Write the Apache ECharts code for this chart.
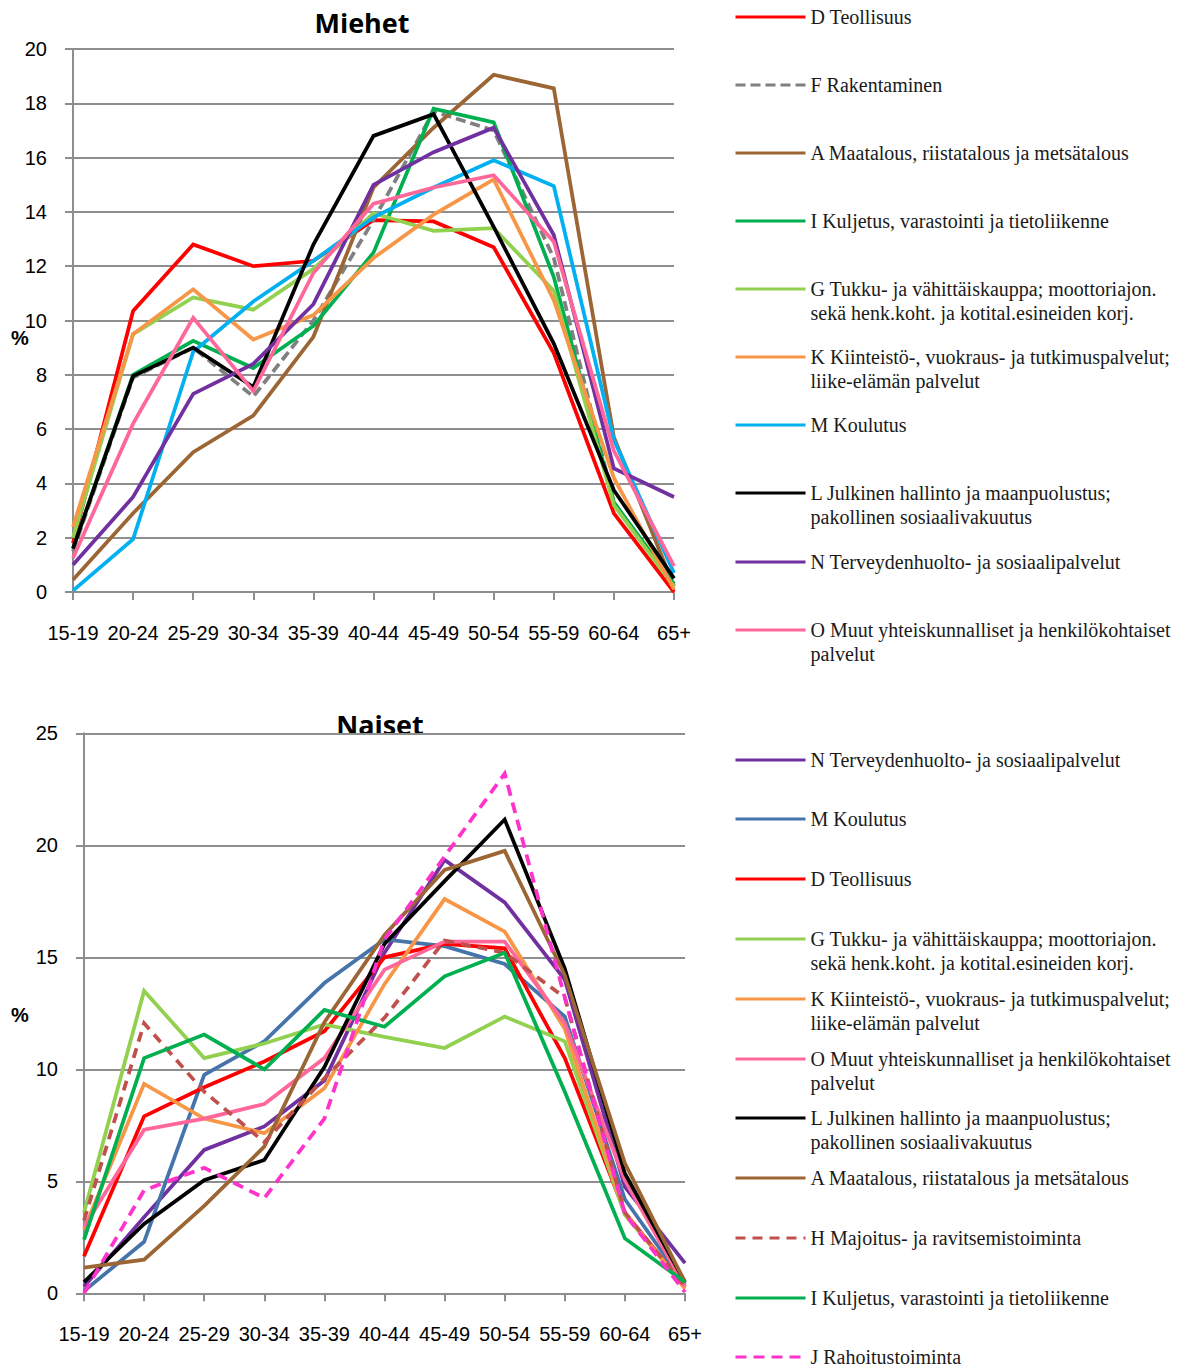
<!DOCTYPE html>
<html>
<head>
<meta charset="utf-8">
<script src="https://cdn.jsdelivr.net/npm/echarts@6/dist/echarts.min.js"></script>
<style>
  html, body { margin: 0; padding: 0; background: #ffffff; }
  #men { position: absolute; left: 0; top: 0; width: 1186px; height: 680px; }
  #women { position: absolute; left: 0; top: 680px; width: 1186px; height: 689px; }
</style>
</head>
<body>
<div id="men"></div>
<div id="women"></div>
<script>
// ---------- shared categories ----------
const ageGroups = ['15-19','20-24','25-29','30-34','35-39','40-44','45-49','50-54','55-59','60-64','65+'];

// ---------- Miehet (men) ----------
const menTitle = 'Miehet';
const menYTicks = { min: 0, max: 20, interval: 2 };
const menNames = [
  'D Teollisuus',
  'F Rakentaminen',
  'A Maatalous, riistatalous ja metsätalous',
  'I Kuljetus, varastointi ja tietoliikenne',
  'G Tukku- ja vähittäiskauppa; moottoriajon.\nsekä henk.koht. ja kotital.esineiden korj.',
  'K Kiinteistö-, vuokraus- ja tutkimuspalvelut;\nliike-elämän palvelut',
  'M Koulutus',
  'L Julkinen hallinto ja maanpuolustus;\npakollinen sosiaalivakuutus',
  'N Terveydenhuolto- ja sosiaalipalvelut',
  'O Muut yhteiskunnalliset ja henkilökohtaiset\npalvelut'
];
const menD = [1.8, 10.35, 12.8, 12.0, 12.2, 13.7, 13.65, 12.7, 8.8, 2.9, 0.0];
const menF = [1.5, 7.9, 9.0, 7.2, 10.0, 13.7, 17.7, 17.0, 12.3, 3.3, 0.2];
const menA = [0.45, 2.9, 5.15, 6.5, 9.4, 14.9, 17.1, 19.05, 18.55, 5.7, 0.2];
const menI = [1.6, 8.0, 9.25, 8.25, 9.8, 12.5, 17.8, 17.3, 11.6, 3.3, 0.3];
const menG = [2.0, 9.5, 10.85, 10.4, 11.9, 13.95, 13.3, 13.4, 11.1, 3.2, 0.2];
const menK = [2.4, 9.5, 11.15, 9.3, 10.2, 12.3, 13.9, 15.2, 10.75, 4.2, 0.1];
const menM = [0.05, 1.95, 8.85, 10.7, 12.2, 13.8, 14.9, 15.9, 14.95, 5.6, 0.7];
const menL = [1.6, 7.95, 9.0, 7.55, 12.8, 16.8, 17.6, 13.45, 9.15, 3.75, 0.5];
const menN = [1.0, 3.5, 7.3, 8.4, 10.6, 15.0, 16.2, 17.1, 13.15, 4.55, 3.5];
const menO = [1.25, 6.2, 10.1, 7.4, 11.75, 14.3, 14.9, 15.35, 12.9, 5.2, 0.95];
const menValues = [menD, menF, menA, menI, menG, menK, menM, menL, menN, menO];
const menColors = ['#FF0000','#808080','#9B6534','#00B050','#92D050','#F79646','#00B0F0','#000000','#7030A0','#FF6699'];
const menDashes = ['solid',[10,5],'solid','solid','solid','solid','solid','solid','solid','solid'];

// ---------- Naiset (women) ----------
const womenTitle = 'Naiset';
const womenYTicks = { min: 0, max: 25, interval: 5 };
const womenNames = [
  'N Terveydenhuolto- ja sosiaalipalvelut',
  'M Koulutus',
  'D Teollisuus',
  'G Tukku- ja vähittäiskauppa; moottoriajon.\nsekä henk.koht. ja kotital.esineiden korj.',
  'K Kiinteistö-, vuokraus- ja tutkimuspalvelut;\nliike-elämän palvelut',
  'O Muut yhteiskunnalliset ja henkilökohtaiset\npalvelut',
  'L Julkinen hallinto ja maanpuolustus;\npakollinen sosiaalivakuutus',
  'A Maatalous, riistatalous ja metsätalous',
  'H Majoitus- ja ravitsemistoiminta',
  'I Kuljetus, varastointi ja tietoliikenne',
  'J Rahoitustoiminta'
];
const womenN = [0.3, 3.4, 6.4, 7.45, 9.5, 15.2, 19.35, 17.45, 14.0, 4.75, 1.35];
const womenM = [0.1, 2.3, 9.75, 11.25, 13.85, 15.8, 15.5, 14.7, 12.35, 4.2, 0.4];
const womenD = [1.65, 7.9, 9.2, 10.35, 11.7, 15.0, 15.6, 15.4, 10.5, 3.6, 0.3];
const womenG = [3.6, 13.5, 10.5, 11.15, 12.0, 11.45, 10.95, 12.35, 11.25, 3.5, 0.3];
const womenK = [2.85, 9.35, 7.8, 7.15, 9.15, 13.8, 17.6, 16.15, 11.8, 3.6, 0.2];
const womenO = [2.95, 7.3, 7.8, 8.45, 10.5, 14.45, 15.7, 15.7, 12.05, 5.05, 0.3];
const womenL = [0.5, 3.1, 5.05, 5.95, 10.1, 15.6, 18.4, 21.15, 14.5, 5.35, 0.5];
const womenA = [1.15, 1.5, 3.9, 6.55, 12.1, 16.0, 18.9, 19.75, 14.2, 5.8, 0.5];
const womenH = [3.25, 12.05, 9.0, 6.75, 9.6, 12.3, 15.75, 15.2, 13.2, 3.6, 0.3];
const womenI = [2.4, 10.5, 11.55, 10.0, 12.65, 11.9, 14.15, 15.2, 9.0, 2.45, 0.5];
const womenJ = [0.0, 4.6, 5.6, 4.25, 7.8, 15.8, 19.5, 23.2, 13.2, 3.55, 0.05];
const womenValues = [womenN, womenM, womenD, womenG, womenK, womenO, womenL, womenA, womenH, womenI, womenJ];
const womenColors = ['#7030A0','#4674AA','#FF0000','#92D050','#F79646','#FF6699','#000000','#9B6534','#C0504D','#00B050','#FF33CC'];
const womenDashes = ['solid','solid','solid','solid','solid','solid','solid','solid',[10,7],'solid',[11,7]];

// ---------- layout ----------
const menLegendCenters = [17, 85, 153, 221, 289, 357, 425, 493, 562, 630];
const womenLegendCenters = [80, 139, 199, 259, 319, 379, 438, 498, 558, 618, 677];

const AXIS_GRAY = '#8E8E8E';
const LABEL_FONT = 'Liberation Sans';

function buildOption(cfg) {
  const legends = cfg.names.map((nm, i) => {
    const twoLine = nm.indexOf('\n') >= 0;
    return {
      data: [nm],
      left: 734,
      top: cfg.legendCenters[i] - (twoLine ? 36 : 12),
      orient: 'vertical',
      padding: 0,
      itemWidth: 70,
      itemHeight: 14,
      selectedMode: false,
      itemStyle: { opacity: 0, borderWidth: 0 },
      lineStyle: { width: 3 },
      formatter: (name) => (name.indexOf('\n') >= 0 ? '\n' + name : name),
      textStyle: { fontFamily: 'Liberation Serif', fontSize: 20, lineHeight: 24, color: '#1a1a1a' }
    };
  });
  const series = cfg.names.map((nm, i) => ({
    name: nm,
    type: 'line',
    data: cfg.values[i],
    symbol: 'none',
    smooth: false,
    z: 2 + i,
    lineStyle: { color: cfg.colors[i], width: 3.75, type: cfg.dashes[i], cap: 'butt', join: 'miter' },
    itemStyle: { color: cfg.colors[i] },
    emphasis: { disabled: true }
  }));
  return {
    animation: false,
    backgroundColor: '#ffffff',
    grid: { left: cfg.grid.left, right: cfg.grid.right, top: cfg.grid.top, bottom: cfg.grid.bottom, containLabel: false },
    legend: legends,
    xAxis: {
      type: 'category',
      data: ageGroups,
      boundaryGap: false,
      axisLine: { show: true, lineStyle: { color: AXIS_GRAY, width: 2 } },
      axisTick: { show: true, length: 8, inside: false, lineStyle: { color: AXIS_GRAY, width: 2 } },
      axisLabel: { interval: 0, color: '#000', fontFamily: LABEL_FONT, fontSize: 20, margin: cfg.xLabelMargin },
      splitLine: { show: false }
    },
    yAxis: {
      type: 'value',
      min: cfg.yTicks.min,
      max: cfg.yTicks.max,
      interval: cfg.yTicks.interval,
      axisLine: { show: true, lineStyle: { color: AXIS_GRAY, width: 2 } },
      axisTick: { show: true, length: 8, inside: false, lineStyle: { color: AXIS_GRAY, width: 2 } },
      axisLabel: { color: '#000', fontFamily: LABEL_FONT, fontSize: 20, margin: 26 },
      splitLine: { show: true, lineStyle: { color: AXIS_GRAY, width: 2 } }
    },
    graphic: [
      { type: 'text', x: cfg.titlePos[0], y: cfg.titlePos[1],
        style: { text: cfg.title, font: 'bold 27px "Open Sans"', fill: '#000', align: 'center', verticalAlign: 'middle', textAlign: 'center', textVerticalAlign: 'middle' } },
      { type: 'text', x: 20, y: cfg.pctY,
        style: { text: '%', font: 'bold 20px "Liberation Sans"', fill: '#000', align: 'center', verticalAlign: 'middle', textAlign: 'center', textVerticalAlign: 'middle' } }
    ],
    series: series
  };
}

const menChart = echarts.init(document.getElementById('men'), null, { renderer: 'svg', width: 1186, height: 680 });
menChart.setOption(buildOption({
  names: menNames, values: menValues, colors: menColors, dashes: menDashes,
  legendCenters: menLegendCenters, yTicks: menYTicks,
  grid: { left: 73, right: 512, top: 49, bottom: 88 },
  xLabelMargin: 31, title: menTitle, titlePos: [362, 22], pctY: 338
}));

const womenChart = echarts.init(document.getElementById('women'), null, { renderer: 'svg', width: 1186, height: 689 });
womenChart.setOption(buildOption({
  names: womenNames, values: womenValues, colors: womenColors, dashes: womenDashes,
  legendCenters: womenLegendCenters, yTicks: womenYTicks,
  grid: { left: 84, right: 501, top: 53.3, bottom: 75.7 },
  xLabelMargin: 31, title: womenTitle, titlePos: [380, 44], pctY: 335
}));
</script>
</body>
</html>
